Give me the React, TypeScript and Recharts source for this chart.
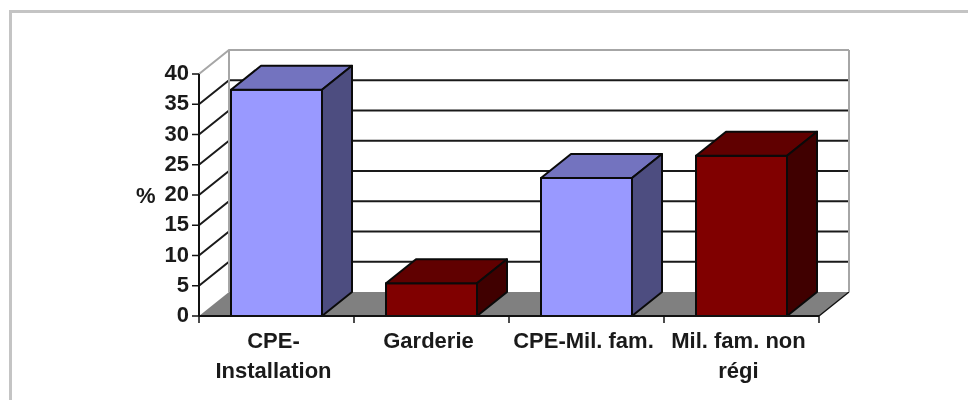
import React from "react";
import { BarChart, Bar, XAxis, YAxis, Cell, CartesianGrid } from "recharts";

const categories = ["CPE-\nInstallation", "Garderie", "CPE-Mil. fam.", "Mil. fam. non\nrégi"];
const values = [37.4, 5.4, 22.8, 26.5];
const yTicks = [0, 5, 10, 15, 20, 25, 30, 35, 40];
const barColors = ["#9999FF", "#800000", "#9999FF", "#800000"];
const topColors: Record<string, string> = { "#9999FF": "#7373BF", "#800000": "#600000" };
const sideColors: Record<string, string> = { "#9999FF": "#4D4D80", "#800000": "#400000" };

const data = categories.map((name, i) => ({ name, value: values[i], color: barColors[i] }));

const W = 976, H = 408;
const LEFT = 199, RIGHT = 819, TOP = 74, BOTTOM = 316;
const DX = 30, DY = 24;
const FONT = "'Liberation Sans', Arial, sans-serif";
const FONT_SIZE = 22;
const BAND = (RIGHT - LEFT) / categories.length;

function WallLine(props: any) {
  const y = props.y1;
  const isTop = Math.abs(y - TOP) < 1;
  const isZero = Math.abs(y - BOTTOM) < 1;
  if (isZero) {
    return (
      <g>
        <polygon
          points={`${LEFT},${y} ${LEFT + DX},${y - DY} ${RIGHT + DX},${y - DY} ${RIGHT},${y}`}
          fill="#808080"
        />
        <line x1={RIGHT} y1={y} x2={RIGHT + DX} y2={y - DY} stroke="#111" strokeWidth={1.5} />
      </g>
    );
  }
  if (isTop) {
    return (
      <g stroke="#a6a6a6" strokeWidth={2} fill="none">
        <polyline points={`${LEFT},${y} ${LEFT + DX},${y - DY} ${RIGHT + DX},${y - DY}`} />
        <line x1={LEFT + DX} y1={y - DY} x2={LEFT + DX} y2={BOTTOM - DY} />
        <line x1={RIGHT + DX} y1={y - DY} x2={RIGHT + DX} y2={BOTTOM - DY} />
      </g>
    );
  }
  return (
    <polyline
      points={`${LEFT},${y} ${LEFT + DX},${y - DY} ${RIGHT + DX},${y - DY}`}
      fill="none"
      stroke="#1a1a1a"
      strokeWidth={2}
    />
  );
}

function YTick(props: any) {
  const { y, payload } = props;
  return (
    <g>
      <line x1={LEFT - 7} y1={y} x2={LEFT} y2={y} stroke="#111" strokeWidth={1.5} />
      <text x={LEFT - 10} y={y + 6} textAnchor="end" fontFamily={FONT} fontWeight={700} fontSize={FONT_SIZE} fill="#1a1a1a">
        {payload.value}
      </text>
    </g>
  );
}

function XTick(props: any) {
  const { x, y, payload, index } = props;
  const lines = String(payload.value).split("\n");
  return (
    <g>
      <line x1={x - BAND / 2} y1={BOTTOM} x2={x - BAND / 2} y2={BOTTOM + 7} stroke="#111" strokeWidth={1.5} />
      {index === categories.length - 1 && (
        <line x1={x + BAND / 2} y1={BOTTOM} x2={x + BAND / 2} y2={BOTTOM + 7} stroke="#111" strokeWidth={1.5} />
      )}
      <text textAnchor="middle" fontFamily={FONT} fontWeight={700} fontSize={FONT_SIZE} fill="#1a1a1a">
        {lines.map((l, i) => (
          <tspan key={i} x={x - 3} y={y + 24 + i * 30}>
            {l}
          </tspan>
        ))}
      </text>
    </g>
  );
}

function Bar3D(props: any) {
  const { x, y, width, height, fill } = props;
  const r = x + width;
  const b = y + height;
  return (
    <g stroke="#0a0a0a" strokeWidth={2} strokeLinejoin="round">
      <rect x={x} y={y} width={width} height={height} fill={fill} />
      <polygon points={`${x},${y} ${x + DX},${y - DY} ${r + DX},${y - DY} ${r},${y}`} fill={topColors[fill]} />
      <polygon points={`${r},${y} ${r + DX},${y - DY} ${r + DX},${b - DY} ${r},${b}`} fill={sideColors[fill]} />
    </g>
  );
}

export default function App() {
  return (
    <div style={{ position: "relative", width: W, height: H, margin: -8, overflow: "hidden", background: "#fff" }}>
      <div
        style={{
          position: "absolute",
          left: 9,
          top: 10,
          width: 966,
          height: 420,
          boxSizing: "border-box",
          border: "3px solid #c4c4c4",
        }}
      />
      <div style={{ position: "absolute", left: 0, top: 0, filter: "blur(0.4px)" }}>
        <BarChart
          width={W}
          height={H}
          data={data}
          margin={{ top: TOP, right: W - RIGHT, bottom: H - BOTTOM - 60, left: LEFT - 60 }}
          barCategoryGap="41%"
        >
          <CartesianGrid
            vertical={false}
            horizontal={(p: any) => <WallLine key={p.key ?? p.y1} {...p} />}
          />
          <YAxis
            type="number"
            domain={[0, 40]}
            ticks={yTicks}
            width={60}
            interval={0}
            tick={<YTick />}
            tickLine={false}
            axisLine={{ stroke: "#111", strokeWidth: 2 }}
            label={{
              value: "%",
              position: "insideLeft",
              dx: -8,
              dy: 0,
              style: { fontFamily: FONT, fontWeight: 700, fontSize: FONT_SIZE, fill: "#1a1a1a" },
            }}
          />
          <XAxis
            dataKey="name"
            height={60}
            interval={0}
            tick={<XTick />}
            tickLine={false}
            axisLine={{ stroke: "#111", strokeWidth: 2 }}
          />
          <Bar dataKey="value" barSize={91} shape={<Bar3D />} isAnimationActive={false}>
            {data.map((d, i) => (
              <Cell key={i} fill={d.color} />
            ))}
          </Bar>
        </BarChart>
      </div>
    </div>
  );
}
